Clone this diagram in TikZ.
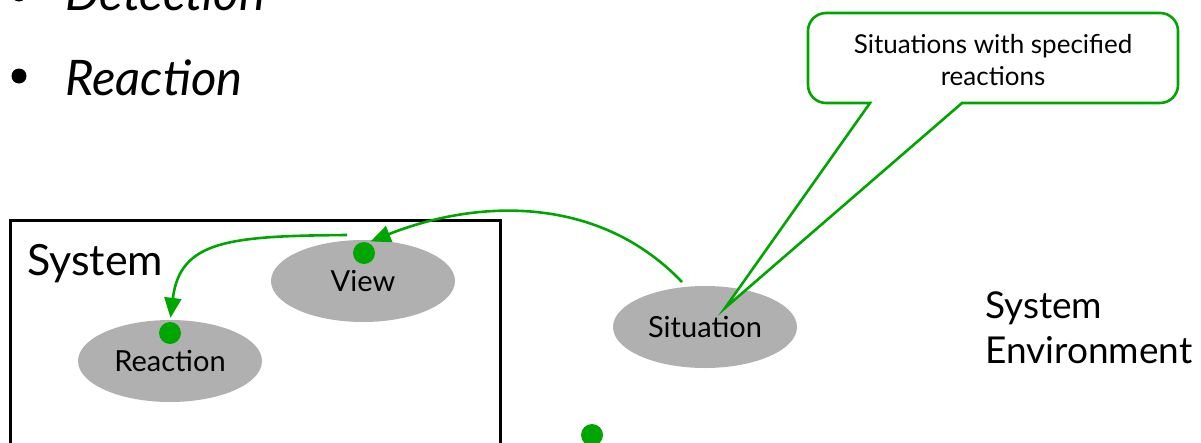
\documentclass[tikz,border=0pt]{standalone}
\usepackage{fontspec}
\setmainfont{Lato}
\usetikzlibrary{shapes.geometric,arrows.meta,calc}
\definecolor{leaf}{RGB}{0,166,0}
\definecolor{stone}{RGB}{176,176,176}
\tikzset{
  blob/.style={ellipse,fill=stone,minimum width=184pt,minimum height=82pt,inner sep=0pt,font=\fontsize{29}{32}\selectfont},
  dot/.style={circle,fill=leaf,minimum size=22pt,inner sep=0pt},
  flow/.style={draw=leaf,line width=2.6pt,-{Triangle[length=20pt,width=17pt]}},
  bubble/.style={draw=leaf,line width=2.6pt,fill=white,line join=miter},
  item/.style={anchor=base west,inner sep=0pt,font=\fontsize{49}{52}\selectfont\itshape},
  label/.style={anchor=base west,inner sep=0pt},
}
\begin{document}
\begin{tikzpicture}[x=1pt,y=-1pt]
\useasboundingbox (0,0) rectangle (1201,442);
\clip (0,0) rectangle (1201,442);

% bulleted list
\fill (19,-6) circle (7.5);
\node[item] (det) at (65,10) {Detection};
\fill (19,76) circle (7.5);
\node[item] (rea) at (65,95) {Reaction};

% the system boundary
\draw[line width=3pt] (10,460) -- (10,220) -- (500,220) -- (500,460);
\node[label,font=\fontsize{43}{46}\selectfont] (sys) at (27,275) {System};

% ellipses and their green markers
\node[blob] (view) at (363,281) {View};
\node[blob] (react) at (170,361) {Reaction};
\node[blob] (sit) at (705,327) {Situation};
\node[dot] (vdot) at (364,253) {};
\node[dot] (rdot) at (170,333) {};
\node[dot] (bdot) at (592,435) {};

% environment label
\node[label,font=\fontsize{37}{45}\selectfont] (env1) at (985,318) {System};
\node[label,font=\fontsize{37}{45}\selectfont] (env2) at (985,363) {Environment};

% connectors
\coordinate (sitsrc) at (682,282);
\coordinate (viewsrc) at (347,235);
\draw[flow,shorten >=3pt] (sitsrc) .. controls (600,196) and (480,198) .. (vdot.70);
\draw[flow,shorten >=4pt] (viewsrc) .. controls (230,236) and (180,240) .. (rdot.north);

% speech bubble pointing at the situation
\coordinate (tip) at (725,308);
\draw[bubble] (tip) -- (870,103)
  [rounded corners=18pt] -- (808,103) -- (808,13) -- (1178,13) -- (1178,103)
  [sharp corners] -- (962,103) -- cycle;
\node[font=\fontsize{26}{32}\selectfont,align=center,inner sep=0pt] (note) at (993,60)
  {Situations with specified\\reactions};
\end{tikzpicture}
\end{document}
